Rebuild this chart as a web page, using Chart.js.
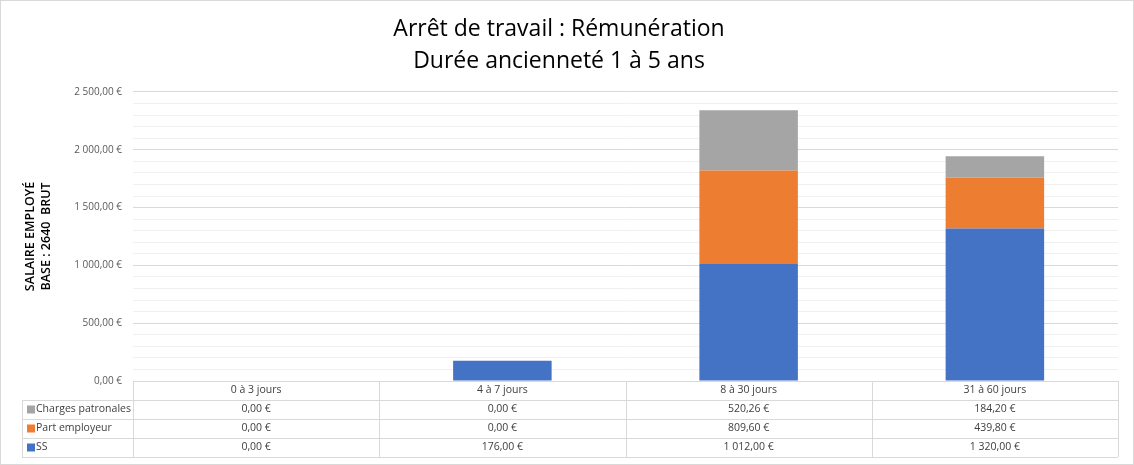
<!DOCTYPE html>
<html lang="fr">
<head>
<meta charset="utf-8">
<title>Arrêt de travail : Rémunération</title>
<script src="https://cdn.jsdelivr.net/npm/chart.js@4/dist/chart.umd.min.js"></script>
<style>
  html, body { margin: 0; padding: 0; background: #fff; }
  #wrap { width: 1134px; height: 465px; position: relative; }
</style>
</head>
<body>
<div id="wrap"><canvas id="remunerationChart"></canvas></div>
<script>
// Data
const categories = ['0 à 3 jours', '4 à 7 jours', '8 à 30 jours', '31 à 60 jours'];
const ss = [0, 176, 1012, 1320];
const partEmployeur = [0, 0, 809.60, 439.80];
const chargesPatronales = [0, 0, 520.26, 184.20];
const yTicks = [0, 500, 1000, 1500, 2000, 2500];

const FONT = "'Open Sans', sans-serif";

// "1 012,00 €"
function euro(v) {
    const parts = Number(v).toFixed(2).split('.');
    return parts[0].replace(/\B(?=(\d{3})+(?!\d))/g, ' ') + ',' + parts[1] + ' €';
}

// Data table drawn under the plot, aligned on the category columns
const dataTable = {
    id: 'dataTable',
    afterDraw(chart) {
        const ctx = chart.ctx;
        const area = chart.chartArea;
        const x = chart.scales.x;
        const rowH = 19;
        const top = area.bottom;
        const legendLeft = 22;
        const n = chart.data.labels.length;
        const colW = (area.right - area.left) / n;
        const rows = chart.data.datasets.slice().reverse();

        ctx.save();
        ctx.strokeStyle = '#d9d9d9';
        ctx.lineWidth = 1;
        ctx.beginPath();
        // header row
        ctx.moveTo(area.left, top + 0.5); ctx.lineTo(area.right, top + 0.5);
        for (let r = 1; r <= rows.length + 1; r++) {
            const y = Math.round(top + r * rowH) + 0.5;
            ctx.moveTo(legendLeft, y); ctx.lineTo(area.right, y);
        }
        for (let c = 0; c <= n; c++) {
            const xx = Math.round(area.left + c * colW) + 0.5;
            ctx.moveTo(xx, top); ctx.lineTo(xx, top + (rows.length + 1) * rowH);
        }
        ctx.moveTo(legendLeft + 0.5, top + rowH); ctx.lineTo(legendLeft + 0.5, top + (rows.length + 1) * rowH);
        ctx.stroke();

        ctx.font = '10.5px ' + FONT;
        ctx.fillStyle = '#404040';
        ctx.textBaseline = 'middle';
        ctx.textAlign = 'center';
        chart.data.labels.forEach((lab, i) => {
            ctx.fillText(lab, x.getPixelForValue(i), top + rowH / 2);
        });
        rows.forEach((ds, r) => {
            const cy = top + (r + 1) * rowH + rowH / 2;
            ctx.fillStyle = ds.backgroundColor;
            ctx.fillRect(legendLeft + 5, cy - 4, 8, 8);
            ctx.fillStyle = '#404040';
            ctx.textAlign = 'left';
            ctx.fillText(ds.label, legendLeft + 14, cy);
            ctx.textAlign = 'center';
            ds.data.forEach((v, i) => {
                ctx.fillText(euro(v), x.getPixelForValue(i), cy);
            });
        });

        // outer frame of the chart
        ctx.strokeStyle = '#d9d9d9';
        ctx.strokeRect(0.5, 0.5, chart.width - 1, chart.height - 1);
        ctx.restore();
    }
};

new Chart(document.getElementById('remunerationChart'), {
    type: 'bar',
    data: {
        labels: categories,
        datasets: [{
            label: 'SS',
            data: ss,
            backgroundColor: '#4472c4'
        }, {
            label: 'Part employeur',
            data: partEmployeur,
            backgroundColor: '#ed7d31'
        }, {
            label: 'Charges patronales',
            data: chargesPatronales,
            backgroundColor: '#a5a5a5'
        }]
    },
    options: {
        responsive: true,
        maintainAspectRatio: false,
        animation: false,
        layout: { padding: { left: 0, right: 16, top: 0, bottom: 84 } },
        datasets: { bar: { barPercentage: 0.4, categoryPercentage: 1 } },
        plugins: {
            legend: { display: false },
            tooltip: { enabled: false },
            title: {
                display: true,
                text: ['Arrêt de travail : Rémunération', 'Durée ancienneté 1 à 5 ans'],
                color: '#000000',
                font: { family: FONT, size: 23, weight: 'normal', lineHeight: 1.39 },
                padding: { top: 13, bottom: 15 }
            }
        },
        scales: {
            x: {
                stacked: true,
                display: false
            },
            y: {
                stacked: true,
                min: 0,
                max: 2500,
                afterFit(scale) { scale.width = 133; },
                border: { display: false },
                grid: {
                    drawTicks: false,
                    color: c => (yTicks.includes(c.tick.value) ? '#d9d9d9' : '#f0f0f0')
                },
                ticks: {
                    stepSize: 100,
                    autoSkip: false,
                    padding: 11,
                    color: '#595959',
                    font: { family: FONT, size: 10 },
                    callback: v => (yTicks.includes(v) ? euro(v) : '')
                },
                title: {
                    display: true,
                    text: ['SALAIRE EMPLOYÉ', 'BASE : 2640  BRUT'],
                    color: '#000000',
                    font: { family: FONT, size: 12.5, weight: '600', lineHeight: 1.25 },
                    padding: { top: 23, bottom: 0 }
                }
            }
        }
    },
    plugins: [dataTable]
});
</script>
</body>
</html>
